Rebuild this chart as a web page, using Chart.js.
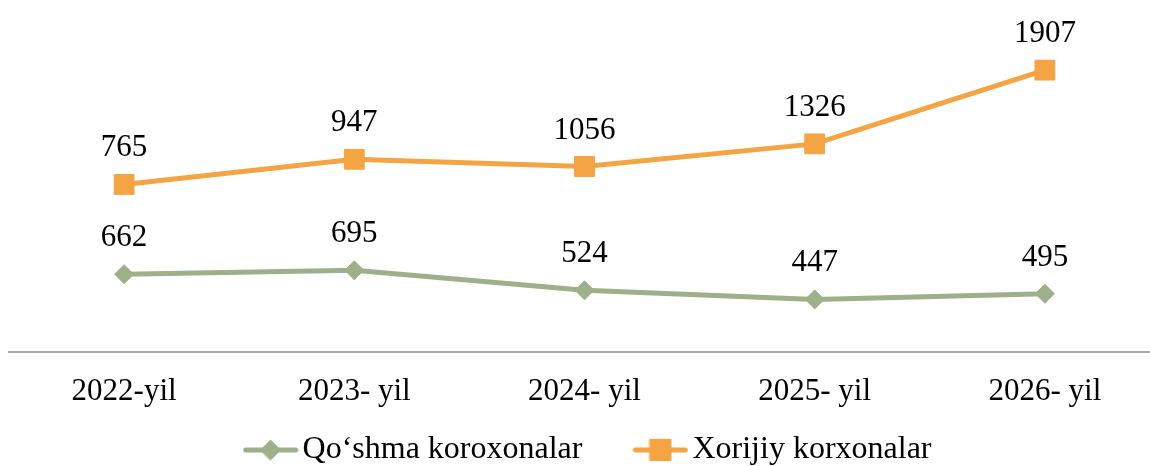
<!DOCTYPE html>
<html>
<head>
<meta charset="utf-8">
<script src="https://cdn.jsdelivr.net/npm/chart.js@4.4.0/dist/chart.umd.min.js"></script>
<style>
  html, body { margin: 0; padding: 0; background: #fff; overflow: hidden; }
  #wrap { width: 1150px; height: 466px; overflow: hidden; }
  #chart { display: block; }
</style>
</head>
<body>
<div id="wrap"><canvas id="chart" width="1162" height="535" style="width:1162px;height:535px"></canvas></div>
<script>
const years = ["2022-yil", "2023- yil", "2024- yil", "2025- yil", "2026- yil"];
const jointValues = [662, 695, 524, 447, 495];
const foreignValues = [765, 947, 1056, 1326, 1907];
const jointName = "Qo‘shma koroxonalar";
const foreignName = "Xorijiy korxonalar";

const jointColor = "#9eb08a";
const foreignColor = "#f4a443";
const serif = "'Liberation Serif', 'Times New Roman', serif";
const legendPad = 62;

// line + marker icon for the legend
function legendIcon(color, style, radius) {
  const c = document.createElement("canvas");
  c.width = 56;
  c.height = 26;
  const g = c.getContext("2d");
  g.strokeStyle = color;
  g.lineWidth = 5;
  g.lineCap = "round";
  g.beginPath();
  g.moveTo(3, 13);
  g.lineTo(53, 13);
  g.stroke();
  g.fillStyle = color;
  g.lineWidth = 1;
  Chart.helpers.drawPoint(g, { pointStyle: style, radius: radius, borderWidth: 1, rotation: 0 }, 28, 13);
  return c;
}

// value above each point (raw value, stacked position)
const valueLabels = {
  id: "valueLabels",
  afterDatasetsDraw(chart) {
    const ctx = chart.ctx;
    ctx.save();
    ctx.font = "31px " + serif;
    ctx.fillStyle = "#000";
    ctx.textAlign = "center";
    ctx.textBaseline = "alphabetic";
    chart.data.datasets.forEach((ds, i) => {
      chart.getDatasetMeta(i).data.forEach((pt, j) => {
        ctx.fillText(String(ds.data[j]), pt.x, pt.y - 28);
      });
    });
    ctx.restore();
  },
};

// pull the legend up close under the axis labels
const legendShift = {
  id: "legendShift",
  afterLayout(chart) {
    const lg = chart.legend;
    const dy = 450 - (lg.top + legendPad + 16);
    lg.top += dy;
    lg.bottom += dy;
    lg.left += 8.5;
    lg.right += 8.5;
  },
};

const icons = [legendIcon(jointColor, "rectRot", 10), legendIcon(foreignColor, "rect", 15)];

new Chart(document.getElementById("chart").getContext("2d"), {
  type: "line",
  data: {
    labels: years,
    datasets: [
      {
        label: jointName,
        data: jointValues,
        borderColor: jointColor,
        backgroundColor: jointColor,
        borderWidth: 5,
        pointStyle: "rectRot",
        pointRadius: 9.5,
        pointBorderWidth: 1,
        fill: false,
        tension: 0,
      },
      {
        label: foreignName,
        data: foreignValues,
        borderColor: foreignColor,
        backgroundColor: foreignColor,
        borderWidth: 5,
        pointStyle: "rect",
        pointRadius: 14,
        pointBorderWidth: 1,
        fill: false,
        tension: 0,
      },
    ],
  },
  options: {
    responsive: false,
    animation: false,
    layout: { autoPadding: false, padding: { left: 9, right: 2, top: 0, bottom: 0 } },
    scales: {
      x: {
        offset: true,
        grid: { display: false, drawTicks: false },
        border: { display: true, color: "#a6a6a6", width: 2 },
        ticks: {
          color: "#000",
          font: { family: serif, size: 31 },
          padding: 21,
          maxRotation: 0,
          autoSkip: false,
        },
      },
      y: {
        display: false,
        stacked: true,
        min: 0,
        max: 3000,
      },
    },
    plugins: {
      tooltip: { enabled: false },
      legend: {
        position: "bottom",
        labels: {
          color: "#000",
          font: { family: serif, size: 32 },
          usePointStyle: true,
          pointStyleWidth: 32,
          padding: legendPad,
          generateLabels: (chart) =>
            chart.data.datasets.map((ds, i) => ({
              text: ds.label,
              fillStyle: ds.borderColor,
              strokeStyle: ds.borderColor,
              lineWidth: 0,
              pointStyle: icons[i],
              fontColor: "#000",
              hidden: false,
              datasetIndex: i,
            })),
        },
      },
    },
  },
  plugins: [valueLabels, legendShift],
});
</script>
</body>
</html>
